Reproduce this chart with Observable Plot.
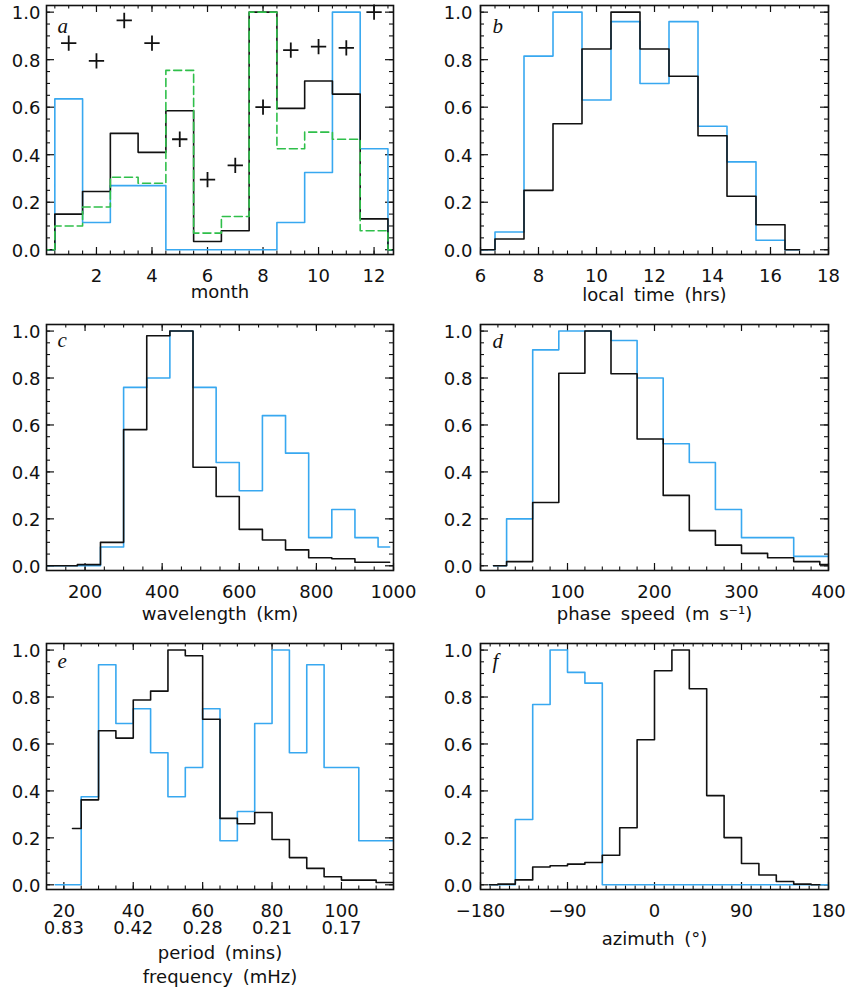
<!DOCTYPE html>
<html><head><meta charset="utf-8">
<script src="https://cdn.jsdelivr.net/npm/d3@7"></script>
<script src="https://cdn.jsdelivr.net/npm/@observablehq/plot@0.6"></script>
<style>
body{margin:0;background:#fff;}
#fig{position:relative;width:846px;height:991px;background:#fff;overflow:hidden;}
#fig svg{position:absolute;}
</style></head><body><div id="fig"></div>
<script>
// ---------- DATA ----------
// panel a: month histograms (padded with empty months 0 and 13)
const monthX = [0,1,2,3,4,5,6,7,8,9,10,11,12,13];
const aBlack = [0,0.15,0.245,0.49,0.41,0.585,0.035,0.08,1.0,0.595,0.71,0.655,0.13,0];
const aBlue  = [0,0.635,0.115,0.27,0.27,0,0,0,0,0.115,0.325,1.0,0.425,0];
const aGreen = [0,0.10,0.18,0.305,0.28,0.755,0.07,0.14,1.0,0.425,0.495,0.465,0.08,0];
const crossMonths = [1,2,3,4,5,6,7,8,9,10,11,12];
const crossValues = [0.87,0.795,0.965,0.87,0.465,0.295,0.355,0.6,0.84,0.855,0.85,1.0];

// panel b: local time
const hourX  = [6,7,8,9,10,11,12,13,14,15,16,17];
const bBlack = [0,0.045,0.25,0.53,0.845,1.0,0.845,0.73,0.48,0.225,0.105,0];
const bBlue  = [0,0.075,0.815,1.0,0.63,0.96,0.70,0.96,0.52,0.37,0.04,0];

// panel c: wavelength (km)
const wlX    = [90,150,210,270,330,390,450,510,570,630,690,750,810,870,930,990];
const cBlack = [0,0,0.005,0.10,0.58,0.98,1.0,0.42,0.295,0.155,0.11,0.068,0.034,0.03,0.015,0.015];
const cBlue  = [0,0,0,0.08,0.76,0.80,1.0,0.76,0.44,0.32,0.64,0.48,0.12,0.24,0.12,0.08];

// panel d: phase speed (m/s)
const spX    = [15,45,75,105,135,165,195,225,255,285,315,345,375,405];
const dBlack = [0,0.018,0.27,0.82,1.0,0.818,0.54,0.30,0.15,0.088,0.053,0.034,0.018,0.005];
const dBlue  = [0,0.20,0.92,1.0,1.0,0.96,0.80,0.52,0.44,0.24,0.12,0.12,0.04,0.04];

// panel e: period (mins)
const perX   = [17.5,22.5,27.5,32.5,37.5,42.5,47.5,52.5,57.5,62.5,67.5,72.5,77.5,82.5,87.5,92.5,97.5,102.5,107.5,112.5,117.5];
const eBlack = [null,0.24,0.362,0.656,0.625,0.787,0.825,1.0,0.976,0.705,0.283,0.26,0.308,0.193,0.116,0.07,0.034,0.02,0.02,0.01,0.01];
const eBlue  = [0,0,0.375,0.9375,0.6875,0.75,0.5625,0.375,0.5,0.75,0.1875,0.3125,0.6875,1.0,0.5625,0.9375,0.5,0.5,0.1875,0.1875,0.1875];
const periodTicks = [20,40,60,80,100];
const freqLabels  = ["0.83","0.42","0.28","0.21","0.17"];

// panel f: azimuth (deg)
const azX    = [-171,-153,-135,-117,-99,-81,-63,-45,-27,-9,9,27,45,63,81,99,117,135,153,171,189];
const fBlack = [0,0.003,0.021,0.076,0.081,0.088,0.095,0.126,0.243,0.618,0.912,1.0,0.835,0.38,0.201,0.091,0.042,0.014,0.003,0,null];
const fBlue  = [0,0,0.278,0.768,1.0,0.905,0.859,0,0,0,0,0,0,0,0,0,0,0,0,0,0];

// axis tick values
const yMajor = [0,0.2,0.4,0.6,0.8,1.0];
const yMinor = d3.range(0, 1.0001, 0.05);

// ---------- STYLE ----------
const INK = "#111111", BLUE = "#38a8f0", GREEN = "#2fbf4a";
const fmtY = d3.format(".1f");
const fmtSigned = d => d < 0 ? "\u2212" + Math.abs(d) : String(d);

function rows(xs, cols) {
  return xs.map((x, i) => {
    const r = {x};
    for (const k in cols) r[k] = cols[k][i];
    return r;
  });
}

function panel(cfg) {
  const {left, top, width, height, mL, mR, mT, mB, xDomain, xMajor, xMinor, xFormat,
         data, lines, extra = [], letter, letterDx, letterDy, title, titleDy, titleLH = 1, yPad, tickLH = 1} = cfg;
  const W = width - mL - mR, H = height - mT - mB;
  const minors = xMinor.filter(v => v >= xDomain[0] - 1e-9 && v <= xDomain[1] + 1e-9);
  const marks = [
    // inward ticks on all four sides
    Plot.tickX(xMajor, {x: d => d, insetTop: H - 7, stroke: INK, strokeWidth: 1.2}),
    Plot.tickX(xMajor, {x: d => d, insetBottom: H - 7, stroke: INK, strokeWidth: 1.2}),
    Plot.tickX(minors, {x: d => d, insetTop: H - 3.5, stroke: INK, strokeWidth: 1.1}),
    Plot.tickX(minors, {x: d => d, insetBottom: H - 3.5, stroke: INK, strokeWidth: 1.1}),
    Plot.tickY(yMajor, {y: d => d, insetRight: W - 8, stroke: INK, strokeWidth: 1.2}),
    Plot.tickY(yMajor, {y: d => d, insetLeft: W - 8, stroke: INK, strokeWidth: 1.2}),
    Plot.tickY(yMinor, {y: d => d, insetRight: W - 4, stroke: INK, strokeWidth: 1.1}),
    Plot.tickY(yMinor, {y: d => d, insetLeft: W - 4, stroke: INK, strokeWidth: 1.1}),
    ...lines.map(l => Plot.line(data, {x: "x", y: l.key, curve: "step", stroke: l.color,
        strokeWidth: 1.6, strokeDasharray: l.dash, clip: true})),
    ...extra,
    Plot.frame({stroke: INK, strokeWidth: 1.6}),
    Plot.axisX({ticks: xMajor, tickSize: 0, tickPadding: 15, tickFormat: xFormat, label: null, lineHeight: tickLH}),
    Plot.axisY({ticks: yMajor, tickSize: 0, tickPadding: yPad, tickFormat: fmtY, label: null, dy: 1.5}),
    Plot.text([letter], {frameAnchor: "top-left", dx: letterDx, dy: letterDy, textAnchor: "start",
        lineAnchor: "bottom", fontFamily: "Liberation Serif", fontStyle: "italic", fontSize: 21, fill: INK}),
    Plot.text([title], {frameAnchor: "bottom", dy: titleDy, lineAnchor: "bottom", lineHeight: titleLH, fill: INK})
  ];
  const svg = Plot.plot({
    width, height, marginLeft: mL, marginRight: mR, marginTop: mT, marginBottom: mB,
    x: {domain: xDomain, label: null},
    y: {domain: [-0.02, 1.028], label: null},
    style: {fontFamily: "DejaVu Sans", fontSize: "18px", color: INK, background: "transparent",
            overflow: "visible", wordSpacing: "4px"},
    marks
  });
  svg.style.left = left + "px";
  svg.style.top = top + "px";
  document.getElementById("fig").appendChild(svg);
}

const L = {left: 0, width: 423, mL: 46, mR: 30};
const R = {left: 423, width: 423, mL: 57, mR: 18};
const R1 = {top: 0, height: 319, mT: 5, mB: 65};
const R2 = {top: 319, height: 319, mT: 5, mB: 68};
const R3 = {top: 638, height: 353, mT: 5, mB: 102};

// a
panel({...L, ...R1, yPad: 6,
  xDomain: [0.2, 12.7], xMajor: [2,4,6,8,10,12], xMinor: d3.range(0, 13.01, 0.5), xFormat: d => String(d),
  data: rows(monthX, {black: aBlack, blue: aBlue, green: aGreen}),
  lines: [{key: "blue", color: BLUE}, {key: "black", color: INK}, {key: "green", color: GREEN, dash: "8,4"}],
  extra: [Plot.dot(crossMonths.map((m, i) => ({m, v: crossValues[i]})),
            {x: "m", y: "v", symbol: "plus", r: 5, stroke: INK, strokeWidth: 1.8})],
  letter: "a", letterDx: 11, letterDy: 27, title: "month", titleDy: 43});

// b
panel({...R, ...R1, yPad: 8,
  xDomain: [6, 18], xMajor: [6,8,10,12,14,16,18], xMinor: d3.range(6, 18.01, 0.5), xFormat: d => String(d),
  data: rows(hourX, {black: bBlack, blue: bBlue}),
  lines: [{key: "blue", color: BLUE}, {key: "black", color: INK}],
  letter: "b", letterDx: 12, letterDy: 27, title: "local time (hrs)", titleDy: 46});

// c
panel({...L, ...R2, yPad: 6,
  xDomain: [100, 1000], xMajor: [200,400,600,800,1000], xMinor: d3.range(100, 1000.1, 50), xFormat: d => String(d),
  data: rows(wlX, {black: cBlack, blue: cBlue}),
  lines: [{key: "blue", color: BLUE}, {key: "black", color: INK}],
  letter: "c", letterDx: 11, letterDy: 22, title: "wavelength (km)", titleDy: 49});

// d
panel({...R, ...R2, yPad: 8,
  xDomain: [0, 400], xMajor: [0,100,200,300,400], xMinor: d3.range(0, 400.1, 20), xFormat: d => String(d),
  data: rows(spX, {black: dBlack, blue: dBlue}),
  lines: [{key: "blue", color: BLUE}, {key: "black", color: INK}],
  letter: "d", letterDx: 12, letterDy: 23, title: "phase speed (m s\u207B\u00B9)", titleDy: 49});

// e
panel({...L, ...R3, yPad: 6, tickLH: 0.95,
  xDomain: [15, 115], xMajor: periodTicks, xMinor: d3.range(15, 115.1, 5),
  xFormat: d => `${d}\n${freqLabels[periodTicks.indexOf(d)]}`,
  data: rows(perX, {black: eBlack, blue: eBlue}),
  lines: [{key: "blue", color: BLUE}, {key: "black", color: INK}],
  letter: "e", letterDx: 11, letterDy: 24, title: "period (mins)\nfrequency (mHz)", titleDy: 93, titleLH: 1.3});

// f
panel({...R, ...R3, yPad: 8,
  xDomain: [-180, 180], xMajor: [-180,-90,0,90,180], xMinor: d3.range(-180, 180.1, 10), xFormat: fmtSigned,
  data: rows(azX, {black: fBlack, blue: fBlue}),
  lines: [{key: "blue", color: BLUE}, {key: "black", color: INK}],
  letter: "f", letterDx: 12, letterDy: 24, title: "azimuth (\u00B0)", titleDy: 55});
</script></body></html>
